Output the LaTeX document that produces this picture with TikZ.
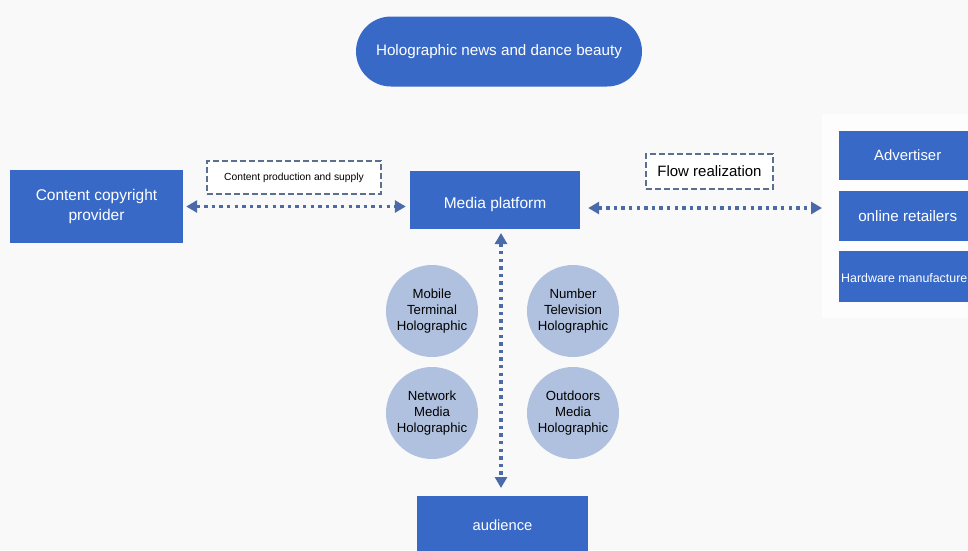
\documentclass[tikz,border=0pt]{standalone}
\usepackage{fontspec}
\setmainfont{Liberation Sans}
\usetikzlibrary{arrows.meta}
\definecolor{boxblue}{HTML}{3869C7}
\definecolor{dotblue}{HTML}{4A6AAA}
\definecolor{framegray}{HTML}{5D6F8F}
\definecolor{discblue}{HTML}{B0C1DF}
\definecolor{bg}{HTML}{F9F9FA}
\definecolor{panel}{HTML}{FDFDFE}
\begin{document}
\begin{tikzpicture}[x=1pt,y=-1pt,
  bluebox/.style={fill=boxblue,draw=none,text=white,align=center,inner sep=0pt,
    font=\fontsize{15.5}{19}\selectfont},
  tagbox/.style={draw=framegray,line width=2pt,dash pattern=on 6pt off 3pt,fill=white,
    inner sep=0pt,align=center},
  disc/.style={circle,fill=discblue,minimum size=92pt,inner sep=0pt,align=center,
    font=\fontsize{13.2}{15.8}\selectfont},
  flow/.style={draw=dotblue,line width=3.6pt,dash pattern=on 3.4pt off 4.2pt,
    {Triangle[length=11pt,width=12pt]}-{Triangle[length=11pt,width=12pt]}}]
\useasboundingbox (0,0) rectangle (968,550);
\fill[bg] (0,0) rectangle (968,550);
\clip (0,0) rectangle (968,550);

% title
\node[bluebox,rounded corners=35pt,minimum width=286pt,minimum height=70pt,
  font=\fontsize{15.2}{18}\selectfont] (title) at (499,51.5) {Holographic news and dance beauty};

% main actors
\node[bluebox,minimum width=173pt,minimum height=73pt] (provider) at (96.5,206.5)
  {\raisebox{1pt}{Content copyright}\\provider};
\node[bluebox,minimum width=170pt,minimum height=58pt,text depth=0pt,text height=11pt]
  (media) at (495,200) {\raisebox{-3pt}{Media platform}};
\node[bluebox,minimum width=171pt,minimum height=60pt,font=\fontsize{14.7}{17}\selectfont]
  (audience) at (502.5,526) {\raisebox{1pt}{audience}};

% partner panel
\fill[panel] (822,114) rectangle (968,318);
\node[bluebox,minimum width=137pt,minimum height=49pt,anchor=west,font=\fontsize{14.9}{17}\selectfont]
  (adv) at (839,155.5) {Advertiser};
\node[bluebox,minimum width=137pt,minimum height=50pt,anchor=west,font=\fontsize{15.2}{17}\selectfont]
  (retail) at (839,216) {online retailers};
\node[bluebox,minimum width=137pt,minimum height=51pt,anchor=west] (hw) at (839,276.5) {};
\node[text=white,anchor=west,inner sep=0pt,font=\fontsize{12.4}{15}\selectfont] (hwtext) at (841,278)
  {Hardware manufacture};

% labels on the flows
\node[tagbox,minimum width=174pt,minimum height=33pt,font=\fontsize{10.3}{12}\selectfont]
  (supply) at (294,177.5) {Content production and supply};
\node[tagbox,minimum width=127pt,minimum height=35pt,font=\fontsize{15}{17}\selectfont]
  (flowlbl) at (709.5,171.5) {Flow realization};

% holographic channels
\node[disc] (mobile) at (432,311) {Mobile\\Terminal\\Holographic};
\node[disc] (number) at (573,311) {Number\\Television\\Holographic};
\node[disc] (network) at (432,413) {Network\\Media\\Holographic};
\node[disc] (outdoor) at (573,413) {Outdoors\\Media\\Holographic};

% flows
\coordinate (rightend) at (822,208);
\coordinate (vtop) at (501,233);
\coordinate (vbot) at (501,488);
\draw[flow] ([xshift=3pt]provider.east) -- ([xshift=-4pt]provider.east -| media.west);
\draw[flow] ([xshift=8pt]media.east |- rightend) -- (rightend);
\draw[flow] (vtop) -- (vbot);
\end{tikzpicture}
\end{document}
